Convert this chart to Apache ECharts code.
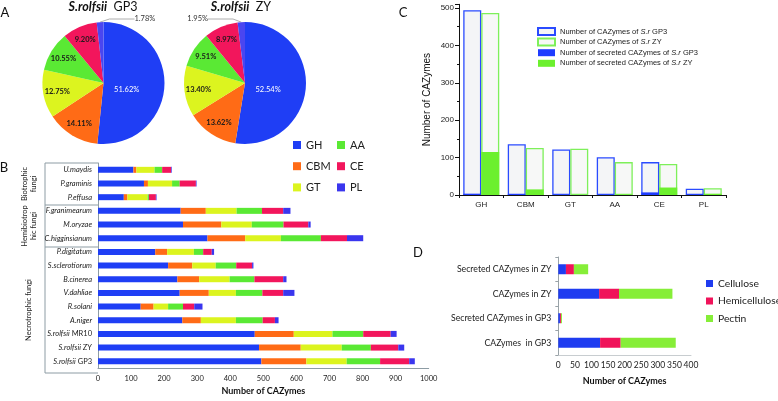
<!DOCTYPE html>
<html><head><meta charset="utf-8">
<script src="https://cdn.jsdelivr.net/npm/echarts@6/dist/echarts.min.js"></script>
<style>html,body{margin:0;padding:0;background:#fff}#c{width:778px;height:401px}</style>
</head><body><div id="c"></div>
<script>
// ---------- DATA ----------
const cazyClasses = ['GH','CBM','GT','AA','CE','PL'];
// Panel A: percentage of each class
const pieGP3 = [51.62, 14.11, 12.75, 10.55, 9.20, 1.78];
const pieZY  = [52.54, 13.62, 13.40, 9.51, 8.97, 1.95];

// Panel B: CAZyme counts per fungus
const fungi = ['U.maydis','P.graminis','P.effusa','F.granimearum','M.oryzae','C.higginsianum',
  'P.digitatum','S.sclerotiorum','B.cinerea','V.dahliae','R.solani','A.niger',
  'S.rolfsii MR10','S.rolfsii ZY','S.rolfsii GP3'];
const fungiGH  = [107,139,78,250,257,331,173,212,240,247,129,255,474,487,494];
const fungiCBM = [9,12,11,76,116,114,36,73,66,88,39,56,118,126,136];
const fungiGT  = [55,73,61,93,92,108,81,71,92,82,44,106,117,124,122];
const fungiAA  = [23,23,4,77,96,121,28,62,75,80,45,81,93,88,101];
const fungiCE  = [27,49,21,64,75,79,26,48,87,63,34,37,83,83,88];
const fungiPL  = [2,2,2,22,7,49,7,4,10,34,25,11,18,18,17];
const fungiGroups = ['Biotrophic\nfungi','Hemibiotrop\nhic fungi','Necrotrophic fungi'];

// Panel C
const gp3Total     = [494,136,122,101,88,17];
const zyTotal      = [487,126,124,88,83,18];
const gp3Secreted  = [3,2,0,0,7,1];
const zySecreted   = [115,15,0,1,20,3];
const cTicks = [0,100,200,300,400,500];

// Panel D
const dCategories = ['CAZymes  in GP3','Secreted CAZymes in GP3','CAZymes in ZY','Secreted CAZymes in ZY'];
const cellulose     = [126,5,123,23];
const hemicellulose = [62,3,60,24];
const pectin        = [166,3,161,43];

// ---------- STYLE ----------
const col = {GH:'#1f3ef5', CBM:'#ff6b16', GT:'#dcf41f', AA:'#5ae934', CE:'#f2165c', PL:'#3a36ee'};
const pieCol = {GH:'#1f3ef5', CBM:'#ff6b16', GT:'#dcf41f', AA:'#5ae934', CE:'#f2165c', PL:'#4a46f0'};
const fungiSeries = {GH:fungiGH, CBM:fungiCBM, GT:fungiGT, AA:fungiAA, CE:fungiCE, PL:fungiPL};
const F = 'Lato, "Noto Sans", sans-serif';
const A = '"Liberation Sans", Arial, sans-serif';
const gray = '#8d9ca4';

function pieSeries(values, center, r, plSide) {
  const total = values.reduce((a,b)=>a+b,0);
  return {
    type:'pie', center: center, radius: r, startAngle: 90, clockwise: true,
    avoidLabelOverlap: false, silent: true,
    label: {show:true, position:'inside', formatter: p => p.value.toFixed(2)+'%',
      fontSize: 7.5, fontFamily: F, fontWeight:'bold', color:'#1a1a1a'},
    labelLine: {show:false},
    labelLayout: function(p){
      const i = p.dataIndex;
      if (i === values.length-1) {
        return plSide === 'right'
          ? {x: center[0]+31, y: 19, align:'left', verticalAlign:'middle'}
          : {x: center[0]-37, y: 19, align:'right', verticalAlign:'middle'};
      }
      let cum = 0; for (let k=0;k<i;k++) cum += values[k];
      const a = (90 - 360*(cum + values[i]/2)/total) * Math.PI/180;
      const rr = i === 0 ? r*0.38 : r*0.77;
      return {x: center[0] + Math.cos(a)*rr, y: center[1] - Math.sin(a)*rr + (i===0?5:0), align:'center', verticalAlign:'middle'};
    },
    data: cazyClasses.map((n,i)=>({
      name:n, value: values[i], itemStyle:{color: pieCol[n]},
      label: i===0 ? {color:'#fff', fontWeight:'normal'} :
             i===5 ? {position:'outside', color:'#333', fontWeight:'normal'} : {},
      labelLine: i===5 ? {show:true, length:3, length2:25, lineStyle:{color:'#9a9a9a', width:0.8}} : {show:false}
    }))
  };
}

const chart = echarts.init(document.getElementById('c'), null, {renderer:'canvas'});
const legendText = {fontFamily: F, fontSize: 11, color:'#222', lineHeight: 13};

const option = {
  animation: false,
  backgroundColor: '#fff',
  grid: [
    {left: 98, right: 349.3, top: 163, bottom: 28, containLabel: false},
    {left: 459, right: 52, top: 4.3, bottom: 206, containLabel: false},
    {left: 558.3, right: 87, top: 257, bottom: 46, containLabel: false}
  ],
  legend: [
    {data:['GH','CBM','GT'], orient:'vertical', left: 288, top: 133.5, itemWidth: 8, itemHeight: 8, itemGap: 8.2,
     icon:'rect', textStyle: legendText, selectedMode:false},
    {data:['AA','CE','PL'], orient:'vertical', left: 332, top: 133.5, itemWidth: 8, itemHeight: 8, itemGap: 8.2,
     icon:'rect', textStyle: legendText, selectedMode:false},
    {data:['Number of CAZymes of S.r GP3','Number of CAZymes of S.r ZY','Number of secreted CAZymes of S.r GP3','Number of secreted CAZymes of S.r ZY'],
     orient:'vertical', left: 532, top: 22, itemWidth: 17, itemHeight: 7, itemGap: 1.6, icon:'rect', selectedMode:false,
     formatter: n => n.replace('S.r', '{i|S.r}'),
     textStyle: {fontFamily: A, fontSize: 7.5, color:'#222', lineHeight: 9, rich:{i:{fontStyle:'italic', fontFamily:A, fontSize:7.5, color:'#222'}}}},
    {data:['Cellulose','Hemicellulose','Pectin'], orient:'vertical', left: 701, top: 272, itemWidth: 7, itemHeight: 7, itemGap: 4.5, itemTextGap: 3,
     icon:'rect', selectedMode:false, textStyle: {fontFamily: F, fontSize: 10.3, color:'#222', lineHeight: 13}}
  ],
  xAxis: [
    {gridIndex:0, type:'value', min:0, max:1000, interval:100,
     axisLine:{show:true, lineStyle:{color:gray}}, axisTick:{show:false}, splitLine:{show:false},
     axisLabel:{fontFamily:F, fontSize:7.5, color:'#222', margin:6, formatter: v => String(v)},
     name:'Number of CAZymes', nameLocation:'middle', nameGap:18,
     nameTextStyle:{fontFamily:F, fontSize:9, fontWeight:'bold', color:'#111'}},
    {gridIndex:1, type:'category', data: cazyClasses,
     axisLine:{lineStyle:{color:'#111', width:1}}, axisTick:{show:true, length:3, lineStyle:{color:'#111'}},
     axisLabel:{fontFamily:A, fontSize:8, color:'#222', margin:6}},
    {gridIndex:1, type:'category', data: cazyClasses, show:false},
    {gridIndex:2, type:'value', min:0, max:400, interval:50,
     axisLine:{show:true, lineStyle:{color:'#c8cdd0'}}, axisTick:{show:false}, splitLine:{show:false},
     axisLabel:{fontFamily:F, fontSize:8.5, color:'#222', margin:6, formatter: v => String(v)},
     name:'Number of CAZymes', nameLocation:'middle', nameGap:22,
     nameTextStyle:{fontFamily:F, fontSize:9, fontWeight:'bold', color:'#111'}}
  ],
  yAxis: [
    {gridIndex:0, type:'category', data: fungi, inverse:true,
     axisLine:{show:true, lineStyle:{color:gray}}, axisTick:{show:false},
     axisLabel:{fontFamily:F, fontSize:7.5, color:'#222', margin:6,
       formatter: v => v.indexOf('S.rolfsii') === 0 ? '{i|S.rolfsii} {n|' + v.slice(10) + '}' : '{i|' + v + '}',
       rich:{i:{fontStyle:'italic', fontFamily:F, fontSize:7.5, color:'#222'}, n:{fontFamily:F, fontSize:7.5, color:'#222'}}}},
    {gridIndex:1, type:'value', min:0, max:510, interval:100,
     axisLine:{show:true, lineStyle:{color:'#111'}}, axisTick:{show:true, length:4, lineStyle:{color:'#111'}},
     minorTick:{show:true, splitNumber:2, length:2, lineStyle:{color:'#111'}},
     splitLine:{show:false},
     axisLabel:{fontFamily:A, fontSize:8, color:'#222', margin:5, formatter: v => cTicks.indexOf(v) >= 0 ? String(v) : ''},
     name:'Number of CAZymes', nameLocation:'middle', nameGap:27,
     nameTextStyle:{fontFamily:A, fontSize:10, color:'#111'}},
    {gridIndex:2, type:'category', data: dCategories,
     axisLine:{show:true, lineStyle:{color:'#9aa3a8'}}, axisTick:{show:true, length:3, lineStyle:{color:'#9aa3a8'}},
     axisLabel:{fontFamily:F, fontSize:8.7, color:'#222', margin:7}}
  ],
  series: [
    pieSeries(pieGP3, [103.5, 83], 61, 'right'),
    pieSeries(pieZY, [245, 83], 61, 'left'),
    ...cazyClasses.map(n => ({
      name:n, type:'bar', stack:'b', xAxisIndex:0, yAxisIndex:0, barWidth:6,
      data: fungiSeries[n], itemStyle:{color: col[n]}, silent:true
    })),
    {name:'Number of CAZymes of S.r GP3', type:'bar', xAxisIndex:1, yAxisIndex:1, barWidth:18, barGap:'0%',
     data: gp3Total, itemStyle:{color:'#f4f5f7', borderColor:'#2a4bff', borderWidth:1.3}},
    {name:'Number of CAZymes of S.r ZY', type:'bar', xAxisIndex:1, yAxisIndex:1, barWidth:18, barGap:'0%',
     data: zyTotal, itemStyle:{color:'#f7f8f7', borderColor:'#7ef05a', borderWidth:1.3}},
    {name:'Number of secreted CAZymes of S.r GP3', type:'bar', xAxisIndex:2, yAxisIndex:1, barWidth:18, barGap:'0%',
     data: gp3Secreted, itemStyle:{color:'#1f3cff'}},
    {name:'Number of secreted CAZymes of S.r ZY', type:'bar', xAxisIndex:2, yAxisIndex:1, barWidth:18, barGap:'0%',
     data: zySecreted, itemStyle:{color:'#6cf02e'}},
    {name:'Cellulose', type:'bar', stack:'d', xAxisIndex:3, yAxisIndex:2, barWidth:10, data: cellulose, itemStyle:{color:'#1f3cf0'}},
    {name:'Hemicellulose', type:'bar', stack:'d', xAxisIndex:3, yAxisIndex:2, barWidth:10, data: hemicellulose, itemStyle:{color:'#f0135a'}},
    {name:'Pectin', type:'bar', stack:'d', xAxisIndex:3, yAxisIndex:2, barWidth:10, data: pectin, itemStyle:{color:'#86ee38'}}
  ],
  graphic: [
    {type:'text', x:5, y:12.5, style:{text:'A', fontFamily:F, fontSize:13, fill:'#111', textAlign:'center', textVerticalAlign:'middle'}},
    {type:'text', x:4, y:168, style:{text:'B', fontFamily:F, fontSize:13, fill:'#111', textAlign:'center', textVerticalAlign:'middle'}},
    {type:'text', x:403, y:13, style:{text:'C', fontFamily:F, fontSize:13, fill:'#111', textAlign:'center', textVerticalAlign:'middle'}},
    {type:'text', x:418, y:253, style:{text:'D', fontFamily:F, fontSize:13, fill:'#111', textAlign:'center', textVerticalAlign:'middle'}},
    {type:'text', x:103, y:7, style:{text:'{i|S.rolfsii}  GP3', fontFamily:F, fontSize:12.5, fill:'#111', textAlign:'center', textVerticalAlign:'middle',
      rich:{i:{fontStyle:'italic', fontWeight:'bold', fontFamily:F, fontSize:12.5, fill:'#111'}}}},
    {type:'text', x:241, y:7, style:{text:'{i|S.rolfsii}  ZY', fontFamily:F, fontSize:12.5, fill:'#111', textAlign:'center', textVerticalAlign:'middle',
      rich:{i:{fontStyle:'italic', fontWeight:'bold', fontFamily:F, fontSize:12.5, fill:'#111'}}}},
    // group bracket for panel B
    {type:'line', shape:{x1:45, y1:163, x2:98, y2:163}, style:{stroke:gray, lineWidth:1}},
    {type:'line', shape:{x1:45, y1:205, x2:98, y2:205}, style:{stroke:gray, lineWidth:1}},
    {type:'line', shape:{x1:45, y1:247, x2:98, y2:247}, style:{stroke:gray, lineWidth:1}},
    {type:'line', shape:{x1:45, y1:373, x2:98, y2:373}, style:{stroke:gray, lineWidth:1}},
    {type:'line', shape:{x1:45, y1:163, x2:45, y2:373}, style:{stroke:gray, lineWidth:1}},
    {type:'text', x:29, y:184, rotation:Math.PI/2, style:{text:fungiGroups[0], fontFamily:F, fontSize:7.5, lineHeight:9, fill:'#222', textAlign:'center', textVerticalAlign:'middle'}},
    {type:'text', x:29, y:226, rotation:Math.PI/2, style:{text:fungiGroups[1], fontFamily:F, fontSize:7.5, lineHeight:9, fill:'#222', textAlign:'center', textVerticalAlign:'middle'}},
    {type:'text', x:29, y:310, rotation:Math.PI/2, style:{text:fungiGroups[2], fontFamily:F, fontSize:7.5, lineHeight:9, fill:'#222', textAlign:'center', textVerticalAlign:'middle'}}
  ]
};
chart.setOption(option);
</script>
</body></html>
